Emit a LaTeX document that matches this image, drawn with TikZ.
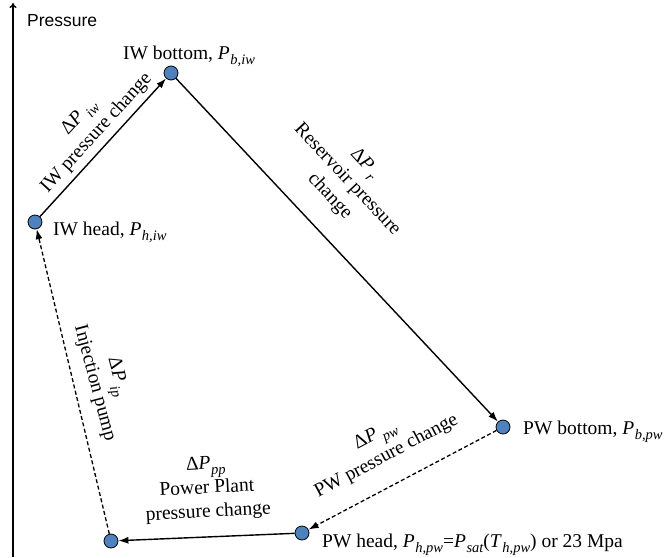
\documentclass[tikz,border=0pt]{standalone}
\usepackage{fontspec}
\setmainfont{Liberation Serif}
\setsansfont{Liberation Sans}
\usetikzlibrary{arrows.meta}
\definecolor{dotblue}{RGB}{79,129,189}
\newcommand\ital[1]{\textit{#1}}
\newcommand\sbs[1]{\kern0.5pt\raisebox{-0.3em}{\fontsize{14.5}{14.5}\selectfont\itshape #1}}
\tikzset{
  dot/.style={circle, draw=black, line width=0.8pt, fill=dotblue, minimum size=14pt, inner sep=0pt},
  solidarrow/.style={line width=1.4pt, -{Latex[length=10pt,width=7pt]}},
  dasharrow/.style={line width=1.3pt, dash pattern=on 4pt off 2.5pt, -{Latex[length=10pt,width=7pt]}},
  axis/.style={line width=1.3pt, -{To[length=5pt,width=7pt]}},
  ptlabel/.style={anchor=base west, inner sep=0pt, font=\fontsize{19.5}{24}\selectfont},
  edgelabel/.style={align=center, inner sep=0pt, font=\fontsize{19.5}{24}\selectfont},
}
\begin{document}
\begin{tikzpicture}[x=1pt,y=-1pt]
\useasboundingbox (0,0) rectangle (668,557);
% axis
\coordinate (a0) at (13,557);
\coordinate (a1) at (13,3);
\draw[axis] (a0) -- (a1);
\node[anchor=base west, inner sep=0pt, font=\sffamily\fontsize{17.5}{20}\selectfont] (ylab) at (27,26) {Pressure};
% points
\node[dot] (ib) at (171,73) {};
\node[dot] (ih) at (35,222) {};
\node[dot] (pb) at (503,427) {};
\node[dot] (ph) at (302,533) {};
\node[dot] (pp) at (111,541) {};
% point labels
\node[ptlabel] (ibl) at (123,59) {IW bottom, \ital{P}\sbs{b,iw}};
\node[ptlabel] (ihl) at (53,235) {IW head, \ital{P}\sbs{h,iw}};
\node[ptlabel] (pbl) at (523,434) {PW bottom, \ital{P}\sbs{b,pw}};
\node[ptlabel] (phl) at (322,547) {PW head, \ital{P}\sbs{h,pw}=\ital{P}\sbs{sat}(\ital{T}\sbs{h,pw}) or 23 Mpa};
% connectors
\draw[solidarrow] (ih) -- (ib);
\draw[solidarrow] (ib) -- (pb);
\draw[dasharrow] (pb) -- (ph);
\draw[solidarrow] (ph) -- (pp);
\draw[dasharrow] (pp) -- (ih);
% edge labels
\node[edgelabel, rotate=47.6] (liw) at (88,125) {Δ\ital{P}\,\sbs{iw}\\IW pressure change};
\node[edgelabel, rotate=-46.8] (lr) at (347,180) {Δ\ital{P}\,\sbs{r}\\Reservoir pressure\\change};
\node[edgelabel, rotate=28] (lpw) at (381,446) {Δ\ital{P}\,\sbs{pw}\\PW pressure change};
\node[edgelabel, rotate=3] (lpp) at (207,489) {Δ\ital{P}\sbs{pp}\\Power Plant\\pressure change};
\node[edgelabel, rotate=-75] (lip) at (106,380) {Δ\ital{P}\,\sbs{ip}\\Injection pump};
\end{tikzpicture}
\end{document}
